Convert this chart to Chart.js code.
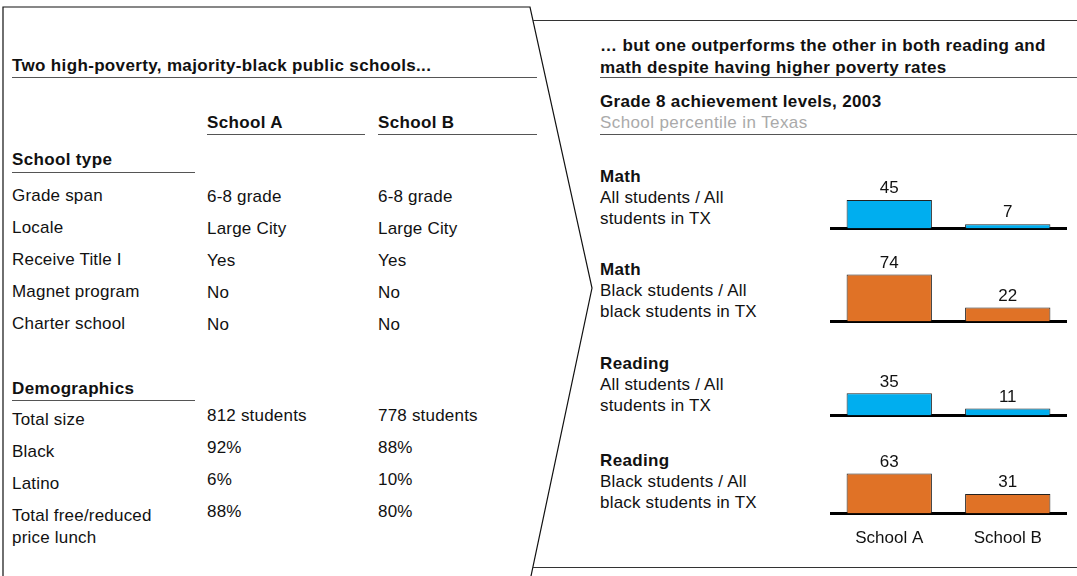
<!DOCTYPE html>
<html lang="en">
<head>
<meta charset="UTF-8">
<title>Two schools</title>
<style>
  body { margin: 0; width: 1077px; height: 576px; background: #fff; position: relative; overflow: hidden;
         font-family: "Liberation Sans", Arial, Helvetica, sans-serif; color: #111; }
  .t { position: absolute; font-size: 17px; line-height: 20px; white-space: nowrap; letter-spacing: 0.2px; }
  .b { font-weight: bold; letter-spacing: 0.35px; }
  .r { line-height: 21px; }
  .r b { letter-spacing: 0.35px; }
  .rule { position: absolute; height: 0; border-top: 1.5px solid #555; }
  .grey { color: #aaa; letter-spacing: 0.4px; }
  canvas { position: absolute; left: 830px; }
  svg { position: absolute; left: 0; top: 0; }
</style>
</head>
<body>
<svg width="1077" height="576">
  <polyline points="3,576 3,7 530,7 592,288 531,576" fill="none" stroke="#111" stroke-width="1.2"/>
  <line x1="533" y1="20.5" x2="1077" y2="20.5" stroke="#333" stroke-width="1.2"/>
  <line x1="533" y1="567.5" x2="1077" y2="567.5" stroke="#333" stroke-width="1.2"/>
</svg>

<!-- left panel -->
<div class="t b" style="left:12px;top:56px">Two high-poverty, majority-black public schools...</div>
<div class="rule" style="left:12px;top:77px;width:525px"></div>
<div class="t b" style="left:207px;top:113px">School A</div>
<div class="rule" style="left:207px;top:134px;width:158px"></div>
<div class="t b" style="left:378px;top:113px">School B</div>
<div class="rule" style="left:378px;top:134px;width:159px"></div>
<div class="t b" style="left:12px;top:150px">School type</div>
<div class="rule" style="left:12px;top:172px;width:183px"></div>
<div class="t b" style="left:12px;top:379px">Demographics</div>
<div class="rule" style="left:12px;top:400px;width:183px"></div>
<div id="table"></div>

<!-- right panel -->
<div class="t b" style="left:600px;top:35px;line-height:21.5px">… but one outperforms the other in both reading and<br>math despite having higher poverty rates</div>
<div class="rule" style="left:600px;top:77px;width:477px"></div>
<div class="t b" style="left:600px;top:92px">Grade 8 achievement levels, 2003</div>
<div class="t grey" style="left:600px;top:113px">School percentile in Texas</div>
<div class="rule" style="left:600px;top:134px;width:477px"></div>
<div id="groups"></div>

<canvas id="c0" width="237" height="144" style="top:135px"></canvas>
<canvas id="c1" width="237" height="144" style="top:228px"></canvas>
<canvas id="c2" width="237" height="144" style="top:322px"></canvas>
<canvas id="c3" width="237" height="144" style="top:420px"></canvas>

<script src="https://cdn.jsdelivr.net/npm/chart.js"></script>
<script>
// table data
const typeLabels = ['Grade span', 'Locale', 'Receive Title I', 'Magnet program', 'Charter school'];
const typeA = ['6-8 grade', 'Large City', 'Yes', 'No', 'No'];
const typeB = ['6-8 grade', 'Large City', 'Yes', 'No', 'No'];
const demoLabels = ['Total size', 'Black', 'Latino', 'Total free/reduced<br>price lunch'];
const demoA = ['812 students', '92%', '6%', '88%'];
const demoB = ['778 students', '88%', '10%', '80%'];

// chart data
const schools = ['School A', 'School B'];
const groupTitles = ['Math', 'Math', 'Reading', 'Reading'];
const groupSubs = ['All students / All<br>students in TX', 'Black students / All<br>black students in TX',
                   'All students / All<br>students in TX', 'Black students / All<br>black students in TX'];
const mathAll = [45, 7];
const mathBlack = [74, 22];
const readingAll = [35, 11];
const readingBlack = [63, 31];

const cyan = '#00AEEF';
const orange = '#E07226';

// build left table
let html = '';
typeLabels.forEach((lab, i) => {
    const y = 186 + i * 32;
    html += `<div class="t" style="left:12px;top:${y}px">${lab}</div>`;
    html += `<div class="t" style="left:207px;top:${y + 1}px">${typeA[i]}</div>`;
    html += `<div class="t" style="left:378px;top:${y + 1}px">${typeB[i]}</div>`;
});
demoLabels.forEach((lab, i) => {
    const y = 409 + i * 32;
    html += `<div class="t" style="left:12px;top:${y}px;line-height:22px">${lab}</div>`;
    html += `<div class="t" style="left:207px;top:${y - 3}px">${demoA[i]}</div>`;
    html += `<div class="t" style="left:378px;top:${y - 3}px">${demoB[i]}</div>`;
});
document.getElementById('table').innerHTML = html;

// right panel labels
const groupTops = [166, 259, 353, 450];
let g = '';
groupTitles.forEach((tt, i) => {
    g += `<div class="t r" style="left:600px;top:${groupTops[i]}px"><b>${tt}</b><br>${groupSubs[i]}</div>`;
});
document.getElementById('groups').innerHTML = g;

// value labels above bars
const valueLabels = {
    id: 'valueLabels',
    afterDatasetsDraw(chart) {
        const ctx = chart.ctx;
        ctx.save();
        ctx.font = '17px "Liberation Sans", Arial, sans-serif';
        ctx.fillStyle = '#111';
        ctx.textAlign = 'center';
        ctx.textBaseline = 'bottom';
        chart.getDatasetMeta(0).data.forEach((bar, i) => {
            ctx.fillText(chart.data.datasets[0].data[i], bar.x, bar.y - 3);
        });
        ctx.restore();
    }
};

function drawBars(id, values, color, showLabels) {
    new Chart(document.getElementById(id), {
        type: 'bar',
        data: {
            labels: schools,
            datasets: [{
                data: values,
                backgroundColor: color,
                borderColor: '#222',
                borderWidth: 1,
                borderSkipped: 'bottom',
                barPercentage: 0.72,
                categoryPercentage: 1
            }]
        },
        options: {
            responsive: false,
            animation: false,
            layout: { padding: { top: 30, left: 0, right: 0, bottom: 0 } },
            plugins: { legend: { display: false }, tooltip: { enabled: false } },
            scales: {
                y: { display: false, min: 0, max: 100 },
                x: {
                    grid: { display: false, drawTicks: false },
                    border: { display: true, color: '#000', width: 3 },
                    ticks: {
                        padding: 15,
                        color: showLabels ? '#111' : 'rgba(0,0,0,0)',
                        font: { size: 17, family: '"Liberation Sans", Arial, sans-serif' }
                    }
                }
            }
        },
        plugins: [valueLabels]
    });
}

drawBars('c0', mathAll, cyan, false);
drawBars('c1', mathBlack, orange, false);
drawBars('c2', readingAll, cyan, false);
drawBars('c3', readingBlack, orange, true);
</script>
</body>
</html>
